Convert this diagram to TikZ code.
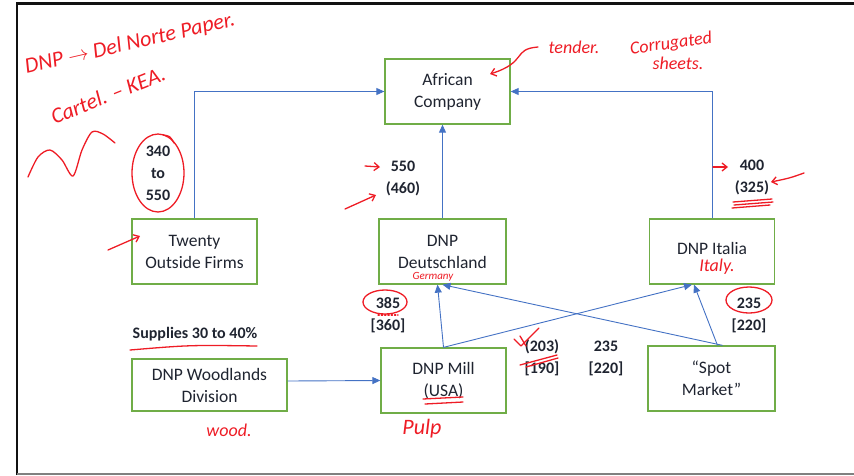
\documentclass[tikz,border=0pt]{standalone}
\usepackage{fontspec}
\setmainfont{Carlito}
\usetikzlibrary{arrows.meta}
\definecolor{flowInk}{HTML}{1F2430}
\definecolor{flowGreen}{HTML}{70AD47}
\definecolor{flowBlue}{HTML}{4472C4}
\definecolor{flowFrame}{HTML}{111111}
\definecolor{noteRed}{HTML}{EE1C25}
\tikzset{
  every picture/.style={text=flowInk},
  flow box/.style={draw=flowGreen, line width=1.3pt, fill=white, align=center,
    minimum width=125pt, minimum height=65pt, inner sep=0pt,
    font=\fontsize{17.5}{22}\selectfont},
  flow arrow/.style={-{Triangle[length=8pt,width=7pt]}, draw=flowBlue,
    line width=0.9pt},
  flow label/.style={align=center, font=\fontsize{16}{22}\selectfont\bfseries},
  note ink/.style={draw=noteRed, line width=1.3pt, line cap=round, line join=round},
  note arrow/.style={note ink, -{Straight Barb[length=5pt,width=8pt]}},
  note text/.style={text=noteRed, inner sep=0pt, font=\fontsize{20}{20}\selectfont\itshape}
}
\begin{document}
\begin{tikzpicture}[x=1pt,y=-1pt]
  \useasboundingbox (0,0) rectangle (854,475);
  \draw[flowFrame, line width=2.8pt] (17,475) -- (17,3.5) -- (854,3.5);
  \draw[gray, line width=1.2pt] (17,474) -- (854,474);

  % companies
  \node[flow box] (african) at (447.5,91.5) {African\\Company};
  \node[flow box] (firms) at (194.5,251.5) {Twenty\\Outside Firms};
  \node[flow box, minimum width=127pt] (deutsch) at (442.5,251.5) {DNP\\Deutschland};
  \node[flow box] (italia) at (712,251.5) {\raisebox{7pt}{DNP Italia}};
  \node[flow box, minimum width=155pt, minimum height=52pt] (woods) at (209.5,385) {DNP Woodlands\\Division};
  \node[flow box] (mill) at (443.5,380.5) {DNP Mill\\(USA)};
  \node[flow box, minimum width=127pt] (spot) at (711.5,378.5) {``Spot\\Market''};

  % flows
  \draw[flow arrow] (firms.north) |- (african.west);
  \draw[flow arrow] (deutsch.north) -- (deutsch.north |- african.south);
  \draw[flow arrow] (italia.north) |- (african.east);
  \draw[flow arrow] ([yshift=4pt]woods.east) -- (mill.west);
  \draw[flow arrow] (mill.north) -- ([xshift=-5pt]deutsch.south);
  \draw[flow arrow] (mill.north) -- ([xshift=-20pt]italia.south);
  \draw[flow arrow] ([xshift=11pt]spot.north) -- (deutsch.south);
  \draw[flow arrow] ([xshift=6pt]spot.north) -- ([xshift=-18pt]italia.south);

  % prices
  \node[flow label] (lblFirms) at (158,173) {340\\to\\550};
  \node[flow label] (lblDeutsch) at (403,178) {550\\(460)};
  \node[flow label] (lblItalia) at (752,177) {400\\(325)};
  \node[flow label] (lblMillD) at (388,315) {385\\{[360]}};
  \node[flow label] (lblMillI) at (542,358) {(203)\\{[190]}};
  \node[flow label] (lblSpotD) at (606,358) {235\\{[220]}};
  \node[flow label] (lblSpotI) at (749,315) {235\\{[220]}};
  \node[flow label] (lblSupply) at (195,334) {Supplies 30 to 40\%};

  % handwritten notes
  \node[note text, rotate=13, font=\fontsize{22}{22}\selectfont\itshape] (noteDnp) at (130,44) {DNP $\rightarrow$ Del Norte Paper.};
  \node[note text, rotate=22, font=\fontsize{22}{22}\selectfont\itshape] (noteCartel) at (108,95) {Cartel. -- KEA.};
  \draw[note ink] plot[smooth] coordinates {(28,177) (38,157) (50,150) (62,160) (73,176) (82,150) (92,132) (103,134) (115,143)};
  \draw[note ink] (lblFirms) ellipse (26 and 39);
  \draw[note ink] (163,135) .. controls (170,136) .. (174,143);
  \draw[note arrow] (108,250) -- (140,236);
  \node[note text, font=\fontsize{18}{18}\selectfont\itshape] (noteTender) at (574,47) {tender.};
  \node[note text, rotate=8, font=\fontsize{18}{18}\selectfont\itshape] (noteCorr) at (671,44) {Corrugated};
  \node[note text, font=\fontsize{18}{18}\selectfont\itshape] (noteSheets) at (678,63) {sheets.};
  \draw[note arrow] (538,47) .. controls (512,49) and (528,62) .. (490,74);
  \draw[note arrow] (365,166) -- (380,167);
  \draw[note arrow] (345,209) -- (376,195);
  \node[note text, font=\fontsize{11}{11}\selectfont\itshape] (noteGermany) at (433,277) {Germany};
  \node[note text, font=\fontsize{18}{18}\selectfont\itshape] (noteItaly) at (717,267) {Italy.};
  \draw[note ink] (385,302) ellipse (22 and 12);
  \draw[note ink, dotted] (378,315) -- (398,315);
  \draw[note ink] (749,300) ellipse (23 and 13);
  \draw[note arrow] (713,167) -- (728,167);
  \draw[note arrow] (804,173) .. controls (790,178) .. (771,182);
  \draw[note ink] (733,202) -- (772,199) (734,205) -- (773,202) (732,208) -- (770,205);
  \draw[note ink] (514,339) -- (521,346) -- (539,328) (520,336) -- (526,346);
  \draw[note ink] (520,365) -- (557,355) (526,367) -- (558,358);
  \draw[note ink] (423,399) -- (463,397) (425,404) -- (463,402);
  \node[note text, font=\fontsize{22}{22}\selectfont\itshape] (notePulp) at (422,429) {Pulp};
  \node[note text, font=\fontsize{18}{18}\selectfont\itshape] (noteWood) at (229,430) {wood.};
  \draw[note ink] (130,350) .. controls (190,345) .. (257,346);
\end{tikzpicture}
\end{document}
